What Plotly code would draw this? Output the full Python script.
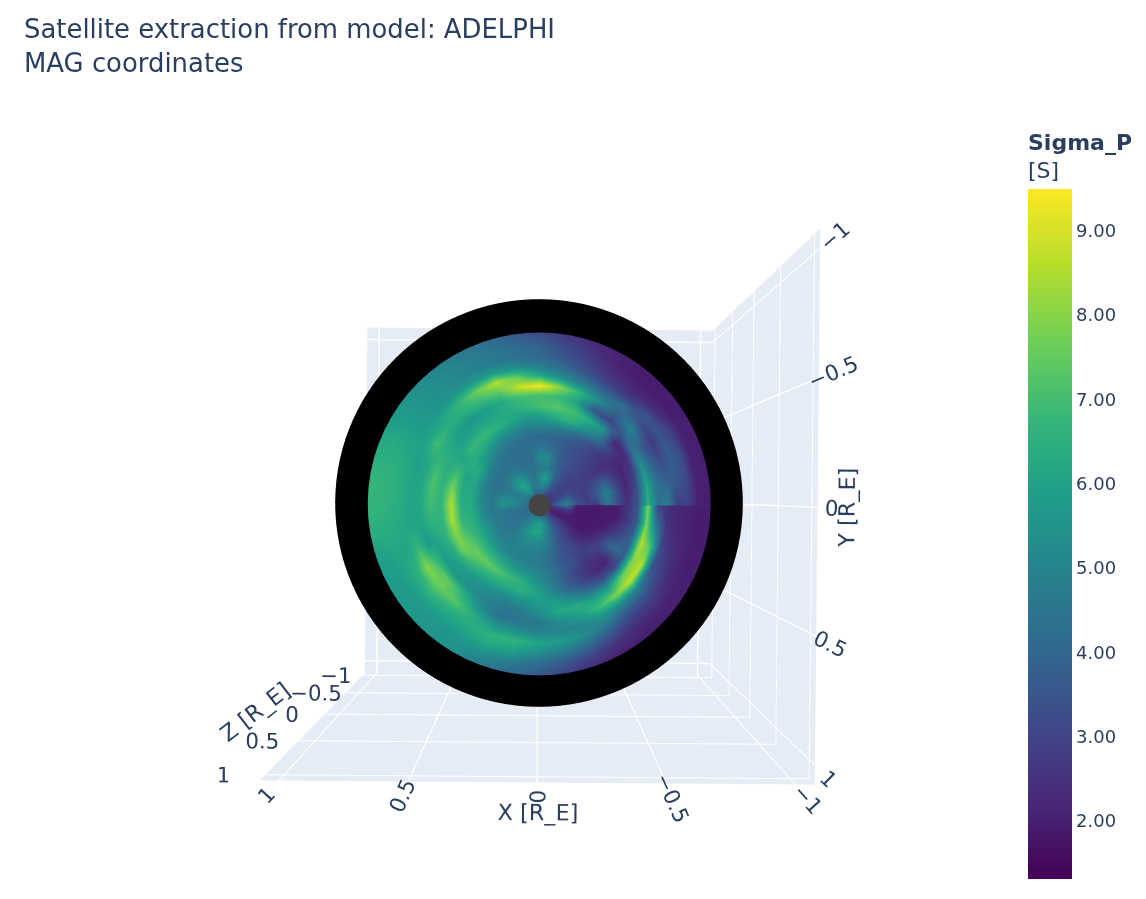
import numpy as np
import plotly.graph_objects as go

title_lines = ["Satellite extraction from model: ADELPHI", "MAG coordinates"]
colorbar_title = ["Sigma_P", "[S]"]
axis_titles = ["X [R_E]", "Y [R_E]", "Z [R_E]"]
axis_ticks = [-1, -0.5, 0, 0.5, 1]
colorbar_ticks = [2, 3, 4, 5, 6, 7, 8, 9]

# angle from the -X direction towards -Y, degrees (the seam sits at 0 / 360)
angle_deg = list(range(0, 361, 10))
# angular distance from the pole, degrees
colat_deg = [2.3, 4.2, 6.1, 8.4, 10.7, 13.1, 15.5, 18, 20.4, 23, 25.8, 28.5, 31.4, 34.4, 37.7, 41.2]

# Sigma_P: one row per angle, one value per colatitude
sigma_000 = [2.5, 4.2, 5.0, 3.5, 2.8, 2.8, 4.5, 3.2, 2.5, 3.5, 6.5, 4.5, 4.8, 2.8, 3.0, 2.1]
sigma_010 = [2.4, 3.5, 4.2, 3.1, 2.8, 3.6, 5.0, 3.4, 2.2, 3.2, 6.2, 4.4, 4.0, 3.6, 3.2, 2.1]
sigma_020 = [2.4, 3.0, 3.4, 3.0, 2.8, 3.3, 3.8, 2.8, 2.1, 2.8, 5.5, 4.0, 3.2, 3.8, 3.3, 2.1]
sigma_030 = [2.5, 2.9, 2.9, 2.9, 2.9, 2.7, 2.5, 2.4, 2.2, 2.3, 4.7, 3.5, 2.7, 3.5, 3.0, 2.1]
sigma_040 = [2.7, 3.0, 3.0, 3.0, 3.0, 2.9, 2.8, 2.7, 3.2, 2.2, 3.8, 5.0, 3.4, 3.5, 2.3, 2.0]
sigma_050 = [2.8, 3.2, 3.3, 3.2, 3.2, 3.2, 3.1, 3.3, 4.6, 5.6, 3.0, 3.8, 4.3, 2.8, 2.2, 2.0]
sigma_060 = [3.1, 3.7, 3.8, 3.6, 3.5, 3.4, 3.4, 3.9, 5.6, 6.4, 3.4, 5.3, 4.0, 3.0, 2.4, 2.1]
sigma_070 = [3.5, 4.4, 5.3, 4.3, 4.0, 3.8, 3.7, 4.5, 6.5, 7.0, 6.0, 6.5, 4.6, 3.5, 2.9, 2.6]
sigma_080 = [3.8, 5.0, 6.0, 4.8, 5.2, 4.2, 3.9, 4.8, 6.3, 7.3, 6.8, 8.0, 5.2, 4.2, 3.5, 3.2]
sigma_090 = [3.9, 4.8, 5.2, 4.6, 5.3, 4.6, 4.0, 5.0, 5.8, 7.1, 7.0, 9.4, 6.2, 4.7, 4.0, 3.9]
sigma_100 = [4.0, 4.5, 4.5, 4.4, 4.2, 4.1, 4.2, 4.9, 5.7, 6.6, 7.0, 8.8, 7.5, 5.3, 4.4, 4.3]
sigma_110 = [4.1, 4.8, 4.7, 4.4, 4.2, 4.2, 4.4, 5.2, 6.2, 6.2, 6.3, 7.4, 8.6, 5.8, 4.7, 4.7]
sigma_120 = [4.2, 5.6, 5.4, 4.6, 4.3, 4.3, 4.6, 5.5, 6.6, 6.1, 5.8, 6.8, 7.6, 5.7, 5.0, 5.0]
sigma_130 = [4.3, 6.0, 6.0, 5.0, 4.3, 4.4, 4.9, 6.0, 6.8, 6.1, 5.6, 6.4, 6.6, 5.6, 5.3, 5.3]
sigma_140 = [4.3, 5.5, 5.8, 4.9, 4.3, 4.6, 5.4, 6.3, 6.8, 5.9, 5.9, 6.4, 6.1, 5.6, 5.6, 5.6]
sigma_150 = [4.3, 5.0, 5.0, 4.5, 4.3, 4.8, 6.2, 6.4, 6.0, 6.2, 6.3, 7.0, 6.0, 5.9, 5.9, 5.9]
sigma_160 = [4.2, 4.8, 4.7, 4.5, 4.4, 4.9, 6.2, 6.0, 7.0, 6.4, 6.9, 6.1, 5.9, 6.1, 6.3, 6.4]
sigma_170 = [4.2, 4.8, 5.2, 5.2, 4.5, 5.0, 6.2, 6.2, 7.8, 6.6, 7.2, 6.1, 6.0, 6.3, 6.5, 6.6]
sigma_180 = [4.2, 4.6, 5.2, 5.5, 4.6, 5.1, 6.3, 6.4, 8.5, 6.6, 7.0, 6.2, 6.0, 6.3, 6.5, 6.6]
sigma_190 = [4.1, 4.4, 4.5, 4.6, 4.6, 5.3, 6.4, 6.6, 8.5, 6.6, 6.6, 6.0, 6.0, 6.2, 6.3, 6.4]
sigma_200 = [4.1, 4.3, 4.4, 4.5, 4.7, 5.6, 6.5, 6.9, 8.0, 6.6, 6.0, 5.8, 6.8, 6.1, 6.1, 6.0]
sigma_210 = [4.1, 4.3, 4.4, 4.5, 4.8, 5.6, 6.6, 7.4, 7.8, 6.2, 5.8, 7.0, 8.0, 6.6, 6.1, 5.8]
sigma_220 = [4.2, 4.4, 4.5, 4.5, 4.7, 5.4, 6.5, 7.6, 7.0, 5.9, 5.6, 7.5, 7.6, 6.8, 6.0, 5.7]
sigma_230 = [4.2, 4.6, 4.7, 4.7, 4.8, 5.2, 6.4, 7.5, 6.5, 5.6, 5.4, 6.6, 7.3, 6.4, 5.9, 5.6]
sigma_240 = [4.3, 5.0, 5.2, 5.0, 4.9, 5.0, 6.1, 7.2, 6.3, 5.4, 5.0, 5.3, 6.3, 6.3, 6.0, 5.6]
sigma_250 = [4.4, 5.4, 5.8, 5.3, 4.9, 4.9, 5.6, 6.8, 6.3, 5.2, 4.6, 4.4, 5.6, 6.5, 6.2, 5.5]
sigma_260 = [4.5, 5.8, 6.1, 5.2, 4.9, 4.8, 5.3, 6.3, 6.5, 5.4, 4.6, 4.5, 5.4, 6.6, 6.0, 5.0]
sigma_270 = [4.4, 5.8, 6.1, 5.2, 4.8, 4.7, 5.0, 5.4, 6.0, 5.8, 5.3, 4.6, 5.0, 6.1, 5.3, 4.4]
sigma_280 = [4.2, 5.6, 5.4, 5.0, 4.5, 4.3, 4.5, 4.6, 5.0, 5.8, 6.2, 5.2, 5.0, 5.8, 4.8, 3.8]
sigma_290 = [4.0, 4.8, 4.6, 4.2, 3.8, 3.6, 3.8, 3.6, 3.9, 5.0, 6.4, 5.8, 5.0, 5.3, 4.2, 3.3]
sigma_300 = [3.6, 4.0, 3.8, 3.5, 3.3, 3.3, 3.4, 2.9, 3.0, 4.2, 5.9, 6.8, 5.5, 4.5, 3.4, 2.6]
sigma_310 = [3.0, 3.2, 3.2, 3.0, 3.0, 3.0, 2.8, 2.4, 2.3, 3.4, 6.0, 7.8, 5.2, 3.6, 2.8, 2.2]
sigma_320 = [2.5, 2.8, 2.8, 2.4, 2.2, 2.5, 3.0, 2.5, 2.1, 3.2, 7.5, 8.8, 5.0, 3.5, 2.8, 2.2]
sigma_330 = [2.1, 2.0, 2.0, 1.9, 1.9, 2.0, 2.6, 3.8, 4.2, 3.8, 8.0, 8.6, 3.6, 3.0, 2.3, 2.1]
sigma_340 = [2.2, 2.1, 2.0, 1.9, 1.9, 1.9, 2.0, 2.6, 3.2, 4.0, 8.6, 7.0, 3.2, 2.5, 2.2, 2.0]
sigma_350 = [2.5, 2.5, 2.8, 1.9, 1.9, 1.9, 1.9, 2.0, 2.6, 3.5, 7.8, 4.6, 2.6, 2.2, 2.1, 2.0]
sigma_360 = [2.5, 3.8, 4.8, 1.9, 1.9, 1.9, 1.9, 1.9, 2.5, 3.5, 7.8, 3.0, 2.4, 2.2, 2.1, 2.0]

sigma_p = [sigma_000, sigma_010, sigma_020, sigma_030, sigma_040, sigma_050, sigma_060, sigma_070,
           sigma_080, sigma_090, sigma_100, sigma_110, sigma_120, sigma_130, sigma_140, sigma_150,
           sigma_160, sigma_170, sigma_180, sigma_190, sigma_200, sigma_210, sigma_220, sigma_230,
           sigma_240, sigma_250, sigma_260, sigma_270, sigma_280, sigma_290, sigma_300, sigma_310,
           sigma_320, sigma_330, sigma_340, sigma_350, sigma_360]

# outermost band, read every 5 degrees of angle
band_angle_deg = list(range(0, 361, 5))
band_colat_deg = [40.6, 46.2]
band_inner = [2.1, 2.1, 2.1, 2.1, 2.1, 2.1, 2.1, 2.0, 2.0, 2.0, 2.0, 2.0, 2.1, 2.3, 2.6, 2.9, 3.2, 3.6, 3.9,
              4.1, 4.3, 4.5, 4.7, 4.9, 5.0, 5.2, 5.3, 5.5, 5.6, 5.8, 5.9, 6.2, 6.4, 6.5, 6.6, 6.7, 6.6,
              6.5, 6.4, 6.2, 6.0, 5.9, 5.8, 5.75, 5.7, 5.65, 5.6, 5.6, 5.6, 5.5, 5.5, 5.2, 5.0, 4.7, 4.4,
              4.1, 3.8, 3.5, 3.3, 2.9, 2.6, 2.4, 2.2, 2.2, 2.2, 2.1, 2.1, 2.0, 2.0, 2.0, 2.0, 2.0, 2.0]
band_outer = [2.0, 2.0, 2.0, 2.0, 2.0, 2.0, 2.0, 2.0, 2.0, 2.0, 2.0, 2.0, 2.05, 2.1, 2.2, 2.4, 2.6, 2.8, 3.1,
              3.4, 3.7, 4.0, 4.3, 4.5, 4.7, 4.9, 5.0, 5.2, 5.4, 5.6, 5.8, 6.0, 6.2, 6.4, 6.6, 6.7, 6.7,
              6.6, 6.4, 6.1, 5.9, 5.8, 5.7, 5.7, 5.7, 5.6, 5.5, 5.5, 5.4, 5.0, 4.7, 4.3, 4.0, 3.8, 3.6,
              3.2, 2.9, 2.5, 2.3, 2.1, 2.0, 2.0, 2.0, 2.0, 2.0, 2.0, 2.0, 2.0, 2.0, 2.0, 2.0, 2.0, 2.0]

pole_x = [0]
pole_y = [0]
pole_z = [1.018]

FONT = "#2a3f5f"
FAMILY = "DejaVu Sans"
flat = dict(ambient=1, diffuse=0, specular=0, roughness=1, fresnel=0)


def on_sphere(colat, angle, radius):
    c, a = np.radians(colat), np.radians(angle)
    aa, cc = np.meshgrid(a, c, indexing="ij")
    return (-radius * np.sin(cc) * np.cos(aa),
            -radius * np.sin(cc) * np.sin(aa),
            radius * np.cos(cc))


fig = go.Figure()

bx, by, bz = on_sphere(np.linspace(0, 180, 61), np.linspace(0, 360, 121), 1.0035)
fig.add_trace(go.Surface(x=bx, y=by, z=bz, surfacecolor=np.zeros_like(bx),
                         colorscale=[[0, "#000000"], [1, "#000000"]], showscale=False,
                         lighting=flat, hoverinfo="skip"))

cx, cy, cz = on_sphere(colat_deg, angle_deg, 1.012)
fig.add_trace(go.Surface(
    x=cx, y=cy, z=cz, surfacecolor=np.array(sigma_p), colorscale="Viridis",
    cmin=1.31, cmax=9.5, lighting=flat,
    colorbar=dict(title=dict(text=f"<b>{colorbar_title[0]}</b><br>{colorbar_title[1]}",
                             font=dict(size=22, color=FONT, family=FAMILY)),
                  tickvals=colorbar_ticks, tickformat=".2f", thickness=44,
                  xref="container", x=1010/1130, xanchor="left",
                  y=0, yanchor="bottom", ypad=0,
                  tickfont=dict(size=18, color=FONT, family=FAMILY), outlinewidth=0, ticks="", len=0.996),
))

rx, ry, rz = on_sphere(band_colat_deg, band_angle_deg, 1.015)
fig.add_trace(go.Surface(x=rx, y=ry, z=rz, surfacecolor=np.array([band_inner, band_outer]).T,
                         colorscale="Viridis", cmin=1.31, cmax=9.5, lighting=flat, showscale=False))

fig.add_trace(go.Scatter3d(x=pole_x, y=pole_y, z=pole_z, mode="markers",
                           marker=dict(size=13, color="#444444", line=dict(width=0)),
                           showlegend=False))

def axis(title):
    return dict(title=dict(text=title, font=dict(size=22.4, color=FONT, family=FAMILY)),
                range=[-1.075, 1.075], tickvals=axis_ticks,
                tickfont=dict(size=16, color=FONT, family=FAMILY),
                ticks="outside", ticklen=9, tickcolor="rgba(255,255,255,0)",
                backgroundcolor="#E5ECF6", showbackground=True,
                gridcolor="white", zerolinecolor="white", gridwidth=3, zerolinewidth=3, linecolor="white")

fig.update_layout(
    width=1130, height=883, autosize=False,
    template="plotly",
    paper_bgcolor="white",
    font=dict(family=FAMILY, color=FONT),
    title=dict(text="<br>".join(title_lines), x=16/1130, xanchor="left", y=0.966, yanchor="top",
               font=dict(size=25.9, color=FONT, family=FAMILY)),
    margin=dict(l=52, r=120, t=118.5, b=11.5),
    scene=dict(xaxis=axis(axis_titles[0]), yaxis=axis(axis_titles[1]), zaxis=axis(axis_titles[2]),
               aspectmode="cube",
               camera=dict(eye=dict(x=0.004, y=-0.015, z=2.13), up=dict(x=0.008, y=-1, z=0),
                           center=dict(x=0, y=0, z=0))),
)

fig.write_html("out.html")
